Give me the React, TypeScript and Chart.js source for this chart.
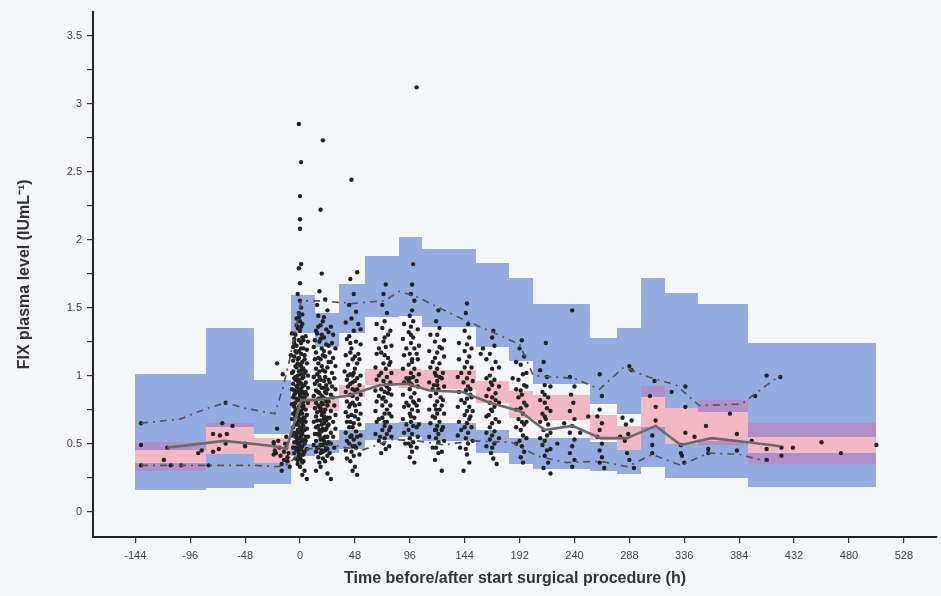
import React, { useEffect, useRef } from "react";
import { Chart, registerables } from "chart.js";

Chart.register(...registerables);

// ---------- axis ticks ----------
const xTickValues = [-144, -96, -48, 0, 48, 96, 144, 192, 240, 288, 336, 384, 432, 480, 528];
const yTickValues = [0, 0.25, 0.5, 0.75, 1, 1.25, 1.5, 1.75, 2, 2.25, 2.5, 2.75, 3, 3.25, 3.5];

// ---------- VPC bins (hours) ----------
const binStart = [-144, -82, -40, -8, 13, 34, 57, 87, 107, 154, 183, 204, 254, 277, 298, 319, 348, 392];
const binEnd = [-82, -40, -8, 13, 34, 57, 87, 107, 154, 183, 204, 254, 277, 298, 319, 348, 392, 504];
// CI of simulated 95th percentile
const upperHi = [1.01, 1.35, 0.97, 1.59, 1.46, 1.67, 1.88, 2.02, 1.93, 1.83, 1.72, 1.53, 1.28, 1.35, 1.72, 1.61, 1.53, 1.24];
const upperLo = [0.45, 0.62, 0.57, 1.31, 1.21, 1.31, 1.43, 1.44, 1.36, 1.21, 1.11, 0.94, 0.79, 0.72, 0.84, 0.76, 0.73, 0.55];
// CI of simulated median
const medHi = [0.51, 0.65, 0.54, 0.84, 0.83, 0.93, 1.05, 1.05, 1.04, 0.96, 0.89, 0.86, 0.71, 0.63, 0.92, 0.76, 0.82, 0.65];
const medLo = [0.30, 0.42, 0.36, 0.76, 0.74, 0.84, 0.93, 0.91, 0.90, 0.80, 0.69, 0.67, 0.53, 0.45, 0.60, 0.50, 0.49, 0.35];
// CI of simulated 5th percentile
const lowerHi = [0.36, 0.42, 0.36, 0.50, 0.53, 0.60, 0.65, 0.66, 0.65, 0.60, 0.54, 0.54, 0.51, 0.45, 0.62, 0.50, 0.52, 0.43];
const lowerLo = [0.16, 0.17, 0.20, 0.41, 0.43, 0.46, 0.53, 0.55, 0.52, 0.43, 0.35, 0.31, 0.30, 0.28, 0.33, 0.25, 0.25, 0.18];

// ---------- observed percentiles ----------
const medTimes = [-116, -66, -22, -12, 1, 12, 41, 70, 94, 113, 142, 166, 192, 214, 238, 263, 286, 311, 333, 360, 392, 420];
const medValues = [0.47, 0.52, 0.48, 0.46, 0.82, 0.82, 0.85, 0.93, 0.94, 0.89, 0.88, 0.80, 0.74, 0.60, 0.63, 0.54, 0.54, 0.63, 0.49, 0.54, 0.51, 0.48];
const p95Times = [-139, -105, -81, -65, -48, -22, -15, -9, 1, 19, 45, 74, 87, 102, 141, 168, 192, 204, 240, 262, 283, 305, 329, 349, 386, 408, 420];
const p95Values = [0.65, 0.68, 0.76, 0.80, 0.76, 0.72, 0.91, 1.12, 1.55, 1.55, 1.53, 1.55, 1.62, 1.58, 1.42, 1.32, 1.23, 1.00, 0.98, 0.90, 1.06, 0.99, 0.93, 0.78, 0.79, 0.93, 1.00];
const p5Times = [-139, -105, -65, -40, -20, -10, 2, 28, 54, 80, 103, 126, 150, 185, 207, 233, 263, 286, 308, 333, 357, 384, 408];
const p5Values = [0.34, 0.34, 0.34, 0.34, 0.33, 0.35, 0.45, 0.49, 0.45, 0.53, 0.52, 0.49, 0.52, 0.51, 0.41, 0.36, 0.37, 0.33, 0.42, 0.34, 0.43, 0.42, 0.37];

// ---------- observed FIX levels [time h, IU/mL] ----------
const obsPre = [
  [-139, 0.65], [-139, 0.49], [-139, 0.34], [-116, 0.47], [-119, 0.38], [-113, 0.34], [-104, 0.34], [-89, 0.43], [-86, 0.45],
  [-80, 0.34], [-65, 0.8], [-68, 0.65], [-76, 0.57], [-70, 0.56], [-64, 0.57], [-59, 0.63], [-65, 0.5], [-71, 0.46], [-76, 0.44],
  [-48, 0.5], [-48, 0.48], [-23, 0.51], [-23, 0.49], [-22, 0.45], [-21, 0.43], [-23, 0.42], [-20, 0.61], [-16, 0.35], [-16, 0.3],
  [-11, 0.4], [-11, 0.37], [-18, 0.47], [-20, 1.09], [-15, 1.01], [-13, 0.5], [-14, 0.44], [-12, 0.55], [-9, 0.33],
  [-19, 0.52], [-17, 0.41], [-14, 0.38], [-12, 0.47], [-10, 0.43],
];
const obsDay0 = [
  [-1, 2.85], [1, 2.57], [0, 2.32], [0, 2.15], [0, 2.08], [1, 1.82], [-1, 1.79], [0, 1.68], [-2, 1.6], [0, 1.55], [1, 1.5], [-1, 1.46],
  [-3, 1.42], [0, 1.4], [2, 1.38], [-2, 1.35], [0, 1.33], [-4, 1.3], [2, 1.28], [-1, 1.26], [1, 1.24], [-3, 1.22], [3, 1.2], [-1, 1.18],
  [1, 1.16], [-5, 1.14], [-2, 1.12], [2, 1.1], [0, 1.08], [-3, 1.06], [3, 1.05], [-1, 1.03], [1, 1.01], [-4, 0.99], [2, 0.98], [-2, 0.96],
  [0, 0.95], [4, 0.93], [-3, 0.92], [1, 0.9], [-1, 0.89], [3, 0.87], [-5, 0.86], [0, 0.85], [2, 0.83], [-2, 0.82], [-4, 0.8], [1, 0.79],
  [-1, 0.77], [3, 0.76], [-3, 0.75], [0, 0.73], [2, 0.72], [-2, 0.7], [4, 0.69], [-1, 0.67], [1, 0.66], [-4, 0.64], [3, 0.63], [0, 0.62],
  [-2, 0.6], [2, 0.59], [-3, 0.57], [1, 0.56], [-1, 0.54], [3, 0.53], [0, 0.51], [-2, 0.5], [2, 0.48], [-4, 0.47], [1, 0.45], [-1, 0.43],
  [3, 0.42], [0, 0.4], [-2, 0.38], [2, 0.36], [0, 0.33], [4, 0.3], [2, 0.27], [-1, 1.13], [1, 1.07], [-1, 0.97], [1, 0.94], [-3, 0.88],
  [3, 0.81], [-1, 0.71], [1, 0.61], [-3, 0.52], [2, 0.65], [-2, 1.0], [6, 0.24], [-4, 1.18], [4, 1.12], [-5, 0.72], [5, 0.55],
];
const obsDay0b = [
  [-7, 1.31], [-5, 1.27], [5, 1.29], [7, 1.25], [-6, 1.21], [6, 1.19], [-8, 1.15], [4, 1.15], [-6, 1.11], [6, 1.09], [-4, 1.07],
  [5, 1.03], [-7, 1.02], [7, 1.0], [-5, 0.98], [3, 0.99], [-6, 0.94], [5, 0.95], [-2, 0.93], [7, 0.91], [-7, 0.9], [2, 0.88],
  [-4, 0.87], [6, 0.86], [-6, 0.84], [4, 0.84], [-1, 0.82], [7, 0.8], [-7, 0.79], [3, 0.78], [-5, 0.77], [5, 0.75], [-2, 0.74],
  [1, 0.74], [-6, 0.72], [6, 0.71], [-4, 0.7], [3, 0.69], [-7, 0.68], [0, 0.68], [5, 0.66], [-3, 0.65], [-6, 0.62], [6, 0.61],
  [-1, 0.6], [4, 0.6], [-5, 0.58], [2, 0.57], [-7, 0.56], [7, 0.55], [-3, 0.55], [0, 0.54], [5, 0.52], [-5, 0.51], [-1, 0.49],
  [4, 0.5], [-6, 0.47], [6, 0.46], [-3, 0.45], [1, 0.47], [-5, 0.43], [4, 0.44], [-1, 0.41], [2, 0.42], [-4, 0.39], [1, 0.38],
  [3, 0.37], [-2, 0.35], [-5, 1.24], [3, 1.26], [-3, 1.17], [1, 1.2], [-2, 1.09], [-6, 1.03], [1, 1.04], [-4, 0.97], [4, 1.02],
  [-2, 0.91], [2, 0.92], [-5, 0.89], [0, 0.87], [5, 0.88], [-3, 0.83], [3, 0.84], [-6, 0.79], [0, 0.78], [-1, 0.73], [2, 0.77],
  [-4, 0.74], [-2, 0.64], [3, 0.67], [0, 0.58], [-4, 0.55], [2, 0.52], [-2, 0.46], [0, 0.44], [1, 1.36], [-1, 1.43], [-3, 1.37], [2, 1.45],
];
const obsDay1 = [
  [20, 2.73], [18, 2.22], [19, 1.75], [17, 1.62], [22, 1.56], [15, 1.52], [24, 1.48], [16, 1.44], [20, 1.4], [18, 1.37], [23, 1.34],
  [15, 1.31], [21, 1.28], [17, 1.25], [25, 1.22], [19, 1.2], [14, 1.17], [22, 1.14], [18, 1.12], [16, 1.09], [24, 1.06], [20, 1.04],
  [15, 1.01], [22, 0.99], [18, 0.97], [26, 0.95], [17, 0.93], [21, 0.91], [14, 0.89], [23, 0.87], [19, 0.85], [16, 0.83], [25, 0.81],
  [20, 0.79], [17, 0.77], [22, 0.75], [15, 0.73], [19, 0.71], [24, 0.69], [18, 0.67], [21, 0.65], [16, 0.63], [23, 0.61], [19, 0.59],
  [15, 0.57], [22, 0.55], [18, 0.53], [25, 0.51], [20, 0.49], [16, 0.47], [22, 0.45], [18, 0.43], [24, 0.41], [20, 0.39], [17, 0.36],
  [27, 0.24], [21, 1.18], [17, 1.03], [23, 0.93], [19, 0.8], [21, 0.7], [17, 0.6], [23, 0.5], [19, 1.3], [15, 0.96], [25, 0.64],
];
const obsDay1b = [
  [14, 1.33], [27, 1.36], [29, 1.3], [13, 1.26], [28, 1.24], [31, 1.2], [12, 1.21], [26, 1.17], [29, 1.13], [13, 1.12], [27, 1.1],
  [31, 1.07], [14, 1.05], [28, 1.02], [12, 0.99], [30, 0.98], [25, 0.97], [13, 0.94], [28, 0.92], [31, 0.9], [16, 0.88], [27, 0.86],
  [12, 0.85], [29, 0.84], [22, 0.83], [14, 0.8], [30, 0.78], [24, 0.78], [13, 0.76], [27, 0.74], [18, 0.74], [31, 0.71], [14, 0.7],
  [26, 0.69], [21, 0.68], [12, 0.66], [29, 0.66], [24, 0.63], [14, 0.62], [31, 0.61], [20, 0.61], [27, 0.58], [13, 0.57], [17, 0.56],
  [29, 0.55], [24, 0.55], [14, 0.52], [21, 0.52], [27, 0.5], [12, 0.49], [18, 0.49], [30, 0.47], [24, 0.46], [14, 0.44], [20, 0.44],
  [26, 0.43], [16, 0.4], [28, 0.39], [22, 0.37], [18, 0.33], [14, 0.3], [24, 0.28], [16, 1.36], [21, 1.43], [25, 1.32], [18, 1.27],
  [23, 1.23], [20, 1.15], [16, 1.13], [25, 1.1], [19, 1.07], [22, 1.03], [17, 0.99], [21, 0.96], [24, 0.9], [19, 0.91], [17, 0.87],
  [22, 0.88], [20, 0.84], [16, 0.78], [23, 0.81], [18, 0.76], [21, 0.73], [15, 0.67], [23, 0.67], [19, 0.64], [22, 0.6], [17, 0.57],
  [20, 0.54], [15, 0.47], [23, 0.47], [19, 0.45],
];
const obsDay2 = [
  [45, 2.44], [50, 1.76], [44, 1.71], [47, 1.6], [43, 1.52], [49, 1.47], [45, 1.42], [51, 1.38], [47, 1.33], [43, 1.29], [49, 1.25],
  [45, 1.2], [51, 1.16], [46, 1.12], [42, 1.08], [48, 1.05], [44, 1.01], [50, 0.98], [46, 0.95], [42, 0.92], [48, 0.89], [44, 0.86],
  [50, 0.83], [46, 0.8], [43, 0.77], [49, 0.74], [45, 0.71], [51, 0.68], [47, 0.65], [43, 0.62], [49, 0.59], [45, 0.56], [47, 0.53],
  [43, 0.5], [49, 0.47], [45, 0.44], [47, 0.41], [44, 0.37], [48, 0.33], [46, 0.3], [50, 0.27], [46, 1.0], [48, 0.78], [44, 0.66], [46, 0.9],
  [40, 1.39], [53, 1.34], [41, 1.27], [53, 1.23], [40, 1.15], [52, 1.12], [39, 1.03], [53, 1.0], [41, 0.97], [52, 0.93], [40, 0.88],
  [53, 0.86], [41, 0.81], [52, 0.79], [40, 0.73], [53, 0.72], [41, 0.66], [52, 0.64], [40, 0.58], [53, 0.56], [41, 0.52], [52, 0.5],
  [40, 0.45], [52, 0.42], [41, 0.39], [44, 1.17], [48, 1.14], [47, 1.02], [44, 0.94], [48, 0.96], [46, 0.85], [44, 0.79], [48, 0.7],
  [46, 0.62], [50, 0.55], [44, 0.55], [48, 0.48], [46, 0.48], [50, 1.09], [50, 0.9], [44, 1.24], [42, 0.7], [42, 1.0],
];
const obsDay3 = [
  [75, 1.67], [73, 1.6], [72, 1.52], [76, 1.46], [74, 1.4], [72, 1.35], [77, 1.3], [73, 1.25], [75, 1.21], [71, 1.17], [77, 1.13],
  [73, 1.09], [75, 1.05], [71, 1.02], [76, 0.99], [73, 0.96], [75, 0.93], [71, 0.9], [77, 0.87], [73, 0.84], [75, 0.81], [72, 0.78],
  [76, 0.75], [74, 0.72], [72, 0.69], [76, 0.66], [74, 0.63], [72, 0.6], [76, 0.57], [74, 0.54], [73, 0.5], [75, 0.46], [71, 0.43],
  [74, 1.15], [76, 0.92], [72, 0.83],
  [67, 1.38], [79, 1.33], [66, 1.27], [80, 1.22], [67, 1.16], [79, 1.1], [66, 1.06], [80, 1.02], [67, 0.97], [79, 0.95], [66, 0.89],
  [80, 0.86], [67, 0.81], [79, 0.78], [66, 0.74], [80, 0.7], [67, 0.66], [79, 0.62], [66, 0.57], [80, 0.55], [69, 0.52], [78, 0.48],
  [69, 1.2], [69, 1.0], [69, 0.85], [69, 0.68], [78, 1.08], [78, 0.9], [78, 0.72], [78, 0.6], [74, 1.28], [74, 0.88], [74, 0.66], [70, 0.55],
];
const obsDay4 = [
  [102, 3.12], [99, 1.82], [98, 1.67], [97, 1.6], [100, 1.55], [98, 1.48], [96, 1.44], [99, 1.4], [97, 1.36], [95, 1.32], [99, 1.28],
  [97, 1.24], [100, 1.2], [96, 1.16], [98, 1.12], [95, 1.08], [100, 1.05], [97, 1.02], [99, 0.99], [95, 0.96], [98, 0.93], [96, 0.9],
  [100, 0.87], [97, 0.84], [99, 0.81], [95, 0.78], [98, 0.75], [96, 0.72], [100, 0.69], [97, 0.66], [99, 0.63], [95, 0.6], [98, 0.57],
  [96, 0.54], [99, 0.51], [97, 0.48], [98, 0.44], [96, 0.4], [100, 0.36], [98, 1.1], [96, 0.98], [100, 0.8],
  [91, 1.38], [103, 1.34], [90, 1.27], [104, 1.22], [91, 1.15], [103, 1.12], [90, 1.05], [104, 1.01], [91, 0.95], [103, 0.92],
  [90, 0.86], [104, 0.82], [91, 0.77], [103, 0.74], [90, 0.68], [104, 0.64], [91, 0.58], [103, 0.55], [92, 0.5], [102, 0.47],
  [93, 1.2], [93, 0.98], [93, 0.8], [93, 0.64], [102, 1.16], [102, 0.96], [102, 0.78], [102, 0.62], [97, 1.3], [97, 0.94], [97, 0.7], [95, 0.5],
];
const obsDay5 = [
  [121, 1.48], [119, 1.4], [122, 1.35], [120, 1.3], [118, 1.25], [122, 1.21], [120, 1.17], [118, 1.13], [122, 1.09], [120, 1.05],
  [118, 1.02], [122, 0.99], [120, 0.96], [117, 0.93], [121, 0.9], [119, 0.87], [123, 0.84], [120, 0.81], [118, 0.78], [122, 0.75],
  [120, 0.72], [118, 0.69], [122, 0.66], [120, 0.63], [118, 0.6], [121, 0.57], [119, 0.54], [121, 0.51], [119, 0.47], [121, 0.43],
  [118, 0.38], [124, 0.3], [120, 0.93],
  [114, 1.3], [126, 1.26], [113, 1.18], [126, 1.14], [114, 1.06], [125, 1.02], [113, 0.95], [126, 0.92], [114, 0.85], [125, 0.82],
  [113, 0.75], [126, 0.72], [114, 0.65], [125, 0.62], [113, 0.55], [126, 0.52], [116, 0.47], [124, 0.44], [116, 1.1], [116, 0.9],
  [116, 0.7], [124, 1.2], [124, 0.98], [124, 0.78], [124, 0.6], [119, 1.0], [119, 0.75], [119, 0.6],
];
const obsDay6 = [
  [146, 1.53], [145, 1.46], [147, 1.38], [144, 1.33], [148, 1.28], [146, 1.23], [144, 1.18], [148, 1.14], [146, 1.1], [144, 1.06],
  [148, 1.02], [146, 0.98], [143, 0.95], [147, 0.92], [145, 0.89], [149, 0.86], [146, 0.83], [144, 0.8], [148, 0.77], [146, 0.74],
  [144, 0.71], [148, 0.68], [146, 0.65], [144, 0.62], [147, 0.58], [145, 0.54], [147, 0.5], [145, 0.46], [146, 0.42], [148, 0.36], [143, 0.3],
  [139, 1.24], [150, 1.2], [139, 1.12], [150, 1.06], [138, 0.99], [151, 0.96], [139, 0.88], [150, 0.84], [138, 0.77], [151, 0.74],
  [139, 0.66], [150, 0.62], [138, 0.56], [151, 0.52], [140, 0.47], [141, 1.02], [141, 0.82], [141, 0.6], [149, 0.9], [149, 0.7],
];
const obsDay7 = [
  [169, 1.33], [168, 1.28], [170, 1.22], [166, 1.16], [171, 1.1], [168, 1.05], [166, 1.0], [170, 0.97], [168, 0.93], [165, 0.9],
  [171, 0.87], [168, 0.84], [166, 0.8], [170, 0.77], [168, 0.74], [165, 0.71], [171, 0.68], [168, 0.65], [166, 0.62], [170, 0.59],
  [168, 0.56], [166, 0.53], [170, 0.5], [168, 0.47], [167, 0.43], [169, 0.39], [172, 0.35], [160, 1.2], [158, 1.16],
  [163, 1.12], [174, 1.06], [163, 0.98], [174, 0.92], [163, 0.85], [174, 0.8], [163, 0.7], [174, 0.66], [163, 0.58], [174, 0.54],
  [163, 0.48], [167, 0.75], [167, 0.95], [171, 0.82],
];
const obsDay8 = [
  [194, 1.26], [192, 1.2], [196, 1.14], [193, 1.08], [195, 1.01], [191, 0.97], [196, 0.93], [193, 0.89], [191, 0.84], [196, 0.8],
  [193, 0.76], [195, 0.72], [191, 0.68], [196, 0.64], [193, 0.6], [195, 0.56], [192, 0.52], [194, 0.48], [196, 0.44], [193, 0.4],
  [195, 0.36], [198, 1.02], [186, 0.98],
  [189, 1.1], [198, 0.92], [189, 0.9], [198, 0.78], [189, 0.75], [198, 0.66], [189, 0.62], [198, 0.54], [189, 0.5], [194, 0.86], [194, 0.66],
];
const obsDay9 = [
  [215, 1.24], [213, 1.1], [216, 0.99], [214, 0.93], [212, 0.88], [217, 0.84], [214, 0.8], [216, 0.76], [212, 0.72], [215, 0.68],
  [217, 0.64], [213, 0.6], [216, 0.56], [214, 0.52], [212, 0.49], [216, 0.45], [214, 0.41], [217, 0.36], [213, 0.32], [219, 0.28], [225, 0.5],
  [210, 1.04], [219, 0.92], [210, 0.82], [219, 0.74], [210, 0.66], [219, 0.58], [210, 0.54], [219, 0.46], [214, 0.7], [214, 0.86],
];
const obsDay10 = [
  [238, 1.48], [236, 0.99], [240, 0.92], [237, 0.86], [239, 0.8], [236, 0.74], [240, 0.68], [238, 0.63], [236, 0.58], [240, 0.53],
  [238, 0.48], [236, 0.43], [240, 0.38], [238, 0.33], [231, 0.65], [245, 0.58],
];
const obsDay11 = [
  [262, 1.01], [264, 0.85], [262, 0.75], [260, 0.7], [264, 0.65], [262, 0.6], [260, 0.55], [264, 0.5], [262, 0.45], [264, 0.4],
  [262, 0.36], [266, 0.32], [252, 0.7],
];
const obsLate = [
  [282, 0.69], [285, 0.64], [287, 0.57], [290, 0.67], [288, 1.07], [290, 1.04], [284, 0.52], [286, 0.43], [288, 0.38], [292, 0.32],
  [280, 0.55], [308, 0.56], [308, 0.49], [308, 0.43], [311, 0.77], [311, 0.67], [310, 0.96], [306, 0.85], [325, 0.88], [337, 0.92],
  [337, 0.77], [337, 0.58], [333, 0.49], [333, 0.43], [334, 0.41], [336, 0.36], [355, 0.63], [357, 0.43], [357, 0.46], [376, 0.72],
  [382, 0.57], [382, 0.45], [398, 0.85], [408, 1.0], [420, 0.99], [408, 0.46], [408, 0.38], [421, 0.47], [421, 0.41], [431, 0.47],
  [456, 0.51], [473, 0.43], [504, 0.49], [395, 0.52], [345, 0.55],
];

const observed = [
  ...obsPre, ...obsDay0, ...obsDay0b, ...obsDay1, ...obsDay1b, ...obsDay2, ...obsDay3, ...obsDay4, ...obsDay5, ...obsDay6,
  ...obsDay7, ...obsDay8, ...obsDay9, ...obsDay10, ...obsDay11, ...obsLate,
];

const BLUE = "#95ace0";
const PINK = "#f2b9c4";
const PURPLE = "#b18fc8";
const FONT = "'Liberation Sans', Arial, sans-serif";

const bgPlugin = {
  id: "pageBg",
  beforeDraw(chart: any) {
    const { ctx, width, height } = chart;
    ctx.save();
    ctx.fillStyle = "#f5f6fa";
    ctx.fillRect(0, 0, width, height);
    ctx.restore();
  },
};

const bandPlugin = {
  id: "vpcBands",
  beforeDatasetsDraw(chart: any) {
    const { ctx, chartArea, scales } = chart;
    const xs = scales.x;
    const ys = scales.y;
    ctx.save();
    ctx.beginPath();
    ctx.rect(chartArea.left, chartArea.top, chartArea.right - chartArea.left, chartArea.bottom - chartArea.top);
    ctx.clip();
    const rect = (x0: number, x1: number, lo: number, hi: number, color: string) => {
      if (hi <= lo) return;
      const px0 = Math.round(xs.getPixelForValue(x0));
      const px1 = Math.round(xs.getPixelForValue(x1));
      const py0 = Math.round(ys.getPixelForValue(hi));
      const py1 = Math.round(ys.getPixelForValue(lo));
      ctx.fillStyle = color;
      ctx.fillRect(px0, py0, px1 - px0, py1 - py0);
    };
    for (let i = 0; i < binStart.length; i++) {
      rect(binStart[i], binEnd[i], upperLo[i], upperHi[i], BLUE);
      rect(binStart[i], binEnd[i], lowerLo[i], lowerHi[i], BLUE);
      rect(binStart[i], binEnd[i], medLo[i], medHi[i], PINK);
      rect(binStart[i], binEnd[i], Math.max(medLo[i], upperLo[i]), Math.min(medHi[i], upperHi[i]), PURPLE);
      rect(binStart[i], binEnd[i], Math.max(medLo[i], lowerLo[i]), Math.min(medHi[i], lowerHi[i]), PURPLE);
    }
    ctx.restore();
  },
};

const toPts = (t: number[], v: number[]) => t.map((x, i) => ({ x, y: v[i] }));

export default function App() {
  const ref = useRef<HTMLCanvasElement>(null);
  useEffect(() => {
    document.body.style.margin = "0";
    document.body.style.background = "#f5f6fa";
    const chart = new Chart(ref.current as HTMLCanvasElement, {
      type: "scatter",
      data: {
        datasets: [
          {
            type: "line",
            data: toPts(medTimes, medValues),
            borderColor: "#6a6a6a",
            borderWidth: 2.6,
            pointRadius: 0,
            tension: 0,
            order: 0,
          } as any,
          {
            type: "line",
            data: toPts(p95Times, p95Values),
            borderColor: "#555555",
            borderWidth: 1.7,
            borderDash: [7, 5, 2, 5],
            pointRadius: 0,
            tension: 0,
            order: 0,
          } as any,
          {
            type: "line",
            data: toPts(p5Times, p5Values),
            borderColor: "#555555",
            borderWidth: 1.7,
            borderDash: [7, 5, 2, 5],
            pointRadius: 0,
            tension: 0,
            order: 0,
          } as any,
          {
            type: "scatter",
            data: observed.map(([x, y]) => ({ x, y })),
            backgroundColor: "#222222",
            borderWidth: 0,
            pointRadius: 2.2,
            order: 1,
          } as any,
        ],
      },
      options: {
        responsive: false,
        animation: false,
        events: [],
        layout: { padding: { top: 10, right: 1, left: 0, bottom: 0 } },
        plugins: { legend: { display: false }, tooltip: { enabled: false } },
        scales: {
          x: {
            type: "linear",
            min: -181,
            max: 557,
            afterBuildTicks: (s: any) => {
              s.ticks = xTickValues.map((v) => ({ value: v }));
            },
            afterFit: (s: any) => {
              s.height = 59;
            },
            ticks: {
              autoSkip: false,
              maxRotation: 0,
              padding: 6,
              color: "#444",
              font: { size: 11, family: FONT },
              callback: (v: any) => String(v),
            },
            grid: { drawOnChartArea: false, drawTicks: true, tickLength: 6, color: "#333", lineWidth: 1.2 },
            border: { display: true, color: "#222", width: 2 },
            title: {
              display: true,
              text: "Time before/after start surgical procedure (h)",
              color: "#333",
              font: { size: 16, weight: "bold", family: FONT },
              padding: { top: 0, bottom: 8 },
            },
          },
          y: {
            type: "linear",
            min: -0.187,
            max: 3.677,
            afterBuildTicks: (s: any) => {
              s.ticks = yTickValues.map((v) => ({ value: v }));
            },
            afterFit: (s: any) => {
              s.width = 93;
            },
            ticks: {
              autoSkip: false,
              padding: 5,
              color: "#444",
              font: { size: 11, family: FONT },
              callback: (v: any) => (Math.abs(v * 2 - Math.round(v * 2)) < 1e-6 ? String(v) : ""),
            },
            grid: { drawOnChartArea: false, drawTicks: true, tickLength: 6, color: "#333", lineWidth: 1.2 },
            border: { display: true, color: "#222", width: 2 },
            title: {
              display: true,
              text: "FIX plasma level (IUmL\u207B\u00B9)",
              color: "#333",
              font: { size: 16, weight: "bold", family: FONT },
              padding: { top: 15, bottom: 0 },
            },
          },
        },
      },
      plugins: [bgPlugin, bandPlugin],
    } as any);
    return () => chart.destroy();
  }, []);
  return (
    <div style={{ position: "fixed", left: 0, top: 0, width: 941, height: 596, background: "#f5f6fa" }}>
      <canvas ref={ref} width={941} height={596} style={{ display: "block" }} />
    </div>
  );
}
